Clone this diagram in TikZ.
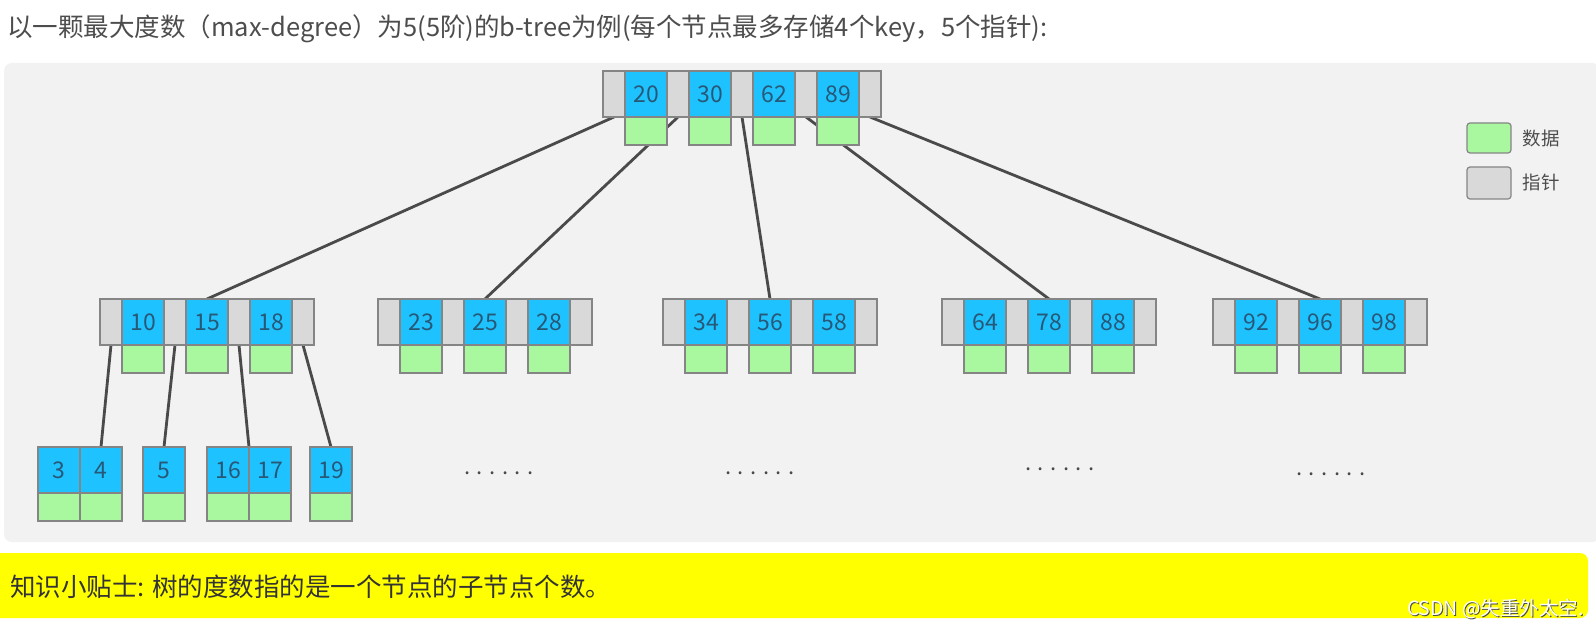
\documentclass[tikz,border=0pt]{standalone}
\usepackage{fontspec}
\setmainfont{Noto Sans CJK SC}
\usepackage{tikz}
\usetikzlibrary{positioning}
\usetikzlibrary{backgrounds}
\definecolor{keyblue}{HTML}{1EC2FE}
\definecolor{datgreen}{HTML}{A9F8A0}
\definecolor{ptrgray}{HTML}{D9D9D9}
\definecolor{cellline}{HTML}{858585}
\definecolor{keytext}{HTML}{285878}
\definecolor{edgegray}{HTML}{4A4A4A}
\definecolor{panelgray}{HTML}{F2F2F2}
\definecolor{titletext}{HTML}{4D4D4D}
\definecolor{tiptext}{HTML}{333333}
\definecolor{tipyellow}{HTML}{FFFF00}
\tikzset{ptr/.style={draw=cellline, fill=ptrgray, line width=1.2pt, minimum width=22pt, minimum height=46pt, inner sep=0pt, outer sep=0pt}}
\tikzset{key/.style={draw=cellline, fill=keyblue, text=keytext, line width=1.2pt, minimum width=42pt, minimum height=46pt, inner sep=0pt, outer sep=0pt, font=\fontsize{23}{23}\selectfont}}
\tikzset{dat/.style={draw=cellline, fill=datgreen, line width=1.2pt, minimum width=42pt, minimum height=28pt, inner sep=0pt, outer sep=0pt, below=0pt of #1}}
\tikzset{edge/.style={draw=edgegray, line width=2.8pt}}
\tikzset{more/.style={text=edgegray, font=\fontsize{22}{22}\selectfont, inner sep=0pt}}

\begin{document}
\begin{tikzpicture}[x=1pt, y=-1pt]
    \useasboundingbox (0,0) rectangle (1596,628);
    \node[anchor=west, inner sep=0pt, text=titletext, font=\fontsize{25.5}{25.5}\selectfont] (title) at (7,29) {以一颗最大度数（max-degree）为5(5阶)的b-tree为例(每个节点最多存储4个key，5个指针):};

    \node[ptr] (rp0) at (614,94) {}; \node[key] (k20) at (646,94) {20}; \node[ptr] (rp1) at (678,94) {}; \node[key] (k30) at (710,94) {30}; \node[ptr] (rp2) at (742,94) {};
    \node[key] (k62) at (774,94) {62}; \node[ptr] (rp3) at (806,94) {}; \node[key] (k89) at (838,94) {89}; \node[ptr] (rp4) at (870,94) {};
    \node[dat=k20] (v20) {}; \node[dat=k30] (v30) {}; \node[dat=k62] (v62) {}; \node[dat=k89] (v89) {};

    \node[ptr] (ap0) at (111,322) {}; \node[key] (k10) at (143,322) {10}; \node[ptr] (ap1) at (175,322) {}; \node[key] (k15) at (207,322) {15}; \node[ptr] (ap2) at (239,322) {}; \node[key] (k18) at (271,322) {18}; \node[ptr] (ap3) at (303,322) {};
    \node[dat=k10] (v10) {}; \node[dat=k15] (v15) {}; \node[dat=k18] (v18) {};
    \node[ptr] (bp0) at (389,322) {}; \node[key] (k23) at (421,322) {23}; \node[ptr] (bp1) at (453,322) {}; \node[key] (k25) at (485,322) {25}; \node[ptr] (bp2) at (517,322) {}; \node[key] (k28) at (549,322) {28}; \node[ptr] (bp3) at (581,322) {};
    \node[dat=k23] (v23) {}; \node[dat=k25] (v25) {}; \node[dat=k28] (v28) {};
    \node[ptr] (cp0) at (674,322) {}; \node[key] (k34) at (706,322) {34}; \node[ptr] (cp1) at (738,322) {}; \node[key] (k56) at (770,322) {56}; \node[ptr] (cp2) at (802,322) {}; \node[key] (k58) at (834,322) {58}; \node[ptr] (cp3) at (866,322) {};
    \node[dat=k34] (v34) {}; \node[dat=k56] (v56) {}; \node[dat=k58] (v58) {};
    \node[ptr] (dp0) at (953,322) {}; \node[key] (k64) at (985,322) {64}; \node[ptr] (dp1) at (1017,322) {}; \node[key] (k78) at (1049,322) {78}; \node[ptr] (dp2) at (1081,322) {}; \node[key] (k88) at (1113,322) {88}; \node[ptr] (dp3) at (1145,322) {};
    \node[dat=k64] (v64) {}; \node[dat=k78] (v78) {}; \node[dat=k88] (v88) {};
    \node[ptr] (ep0) at (1224,322) {}; \node[key] (k92) at (1256,322) {92}; \node[ptr] (ep1) at (1288,322) {}; \node[key] (k96) at (1320,322) {96}; \node[ptr] (ep2) at (1352,322) {}; \node[key] (k98) at (1384,322) {98}; \node[ptr] (ep3) at (1416,322) {};
    \node[dat=k92] (v92) {}; \node[dat=k96] (v96) {}; \node[dat=k98] (v98) {};

    \node[key] (k3) at (59,470) {3}; \node[key, right=0pt of k3] (k4) {4}; \node[key] (k5) at (164,470) {5};
    \node[key] (k16) at (228,470) {16}; \node[key, right=0pt of k16] (k17) {17}; \node[key] (k19) at (331,470) {19};
    \node[dat=k3] (v3) {}; \node[dat=k4] (v4) {}; \node[dat=k5] (v5) {}; \node[dat=k16] (v16) {}; \node[dat=k17] (v17) {}; \node[dat=k19] (v19) {};

    \node[more] (dots1) at (499,473) {. . . . . .};
    \node[more] (dots2) at (760,473) {. . . . . .};
    \node[more] (dots3) at (1060,469) {. . . . . .};
    \node[more] (dots4) at (1331,474) {. . . . . .};

    \node[draw=cellline, fill=datgreen, rounded corners=3pt, minimum width=44pt, minimum height=30pt, line width=1.2pt] (lgdat) at (1489,138) {};
    \node[draw=cellline, fill=ptrgray, rounded corners=3pt, minimum width=44pt, minimum height=32pt, line width=1.2pt] (lgptr) at (1489,183) {};
    \node[anchor=west, text=titletext, font=\fontsize{18.5}{18.5}\selectfont] (lgdattext) at (1519,138) {数据};
    \node[anchor=west, text=titletext, font=\fontsize{18.5}{18.5}\selectfont] (lgptrtext) at (1519,182) {指针};

    \node[anchor=west, inner sep=0pt, text=tiptext, font=\fontsize{25.5}{25.5}\selectfont] (tip) at (10,587) {知识小贴士: 树的度数指的是一个节点的子节点个数。};
    \node[anchor=east, inner sep=0pt, text=black!70, font=\fontsize{19.5}{19.5}\selectfont] (wmkshade) at (1585,610) {CSDN @失重外太空.};
    \node[anchor=east, inner sep=0pt, text=white, font=\fontsize{19.5}{19.5}\selectfont] (wmk) at (1584,609) {CSDN @失重外太空.};

    \begin{scope}[on background layer]
        \fill[white] (0,0) rectangle (1596,628);
        \fill[panelgray, rounded corners=8pt] (4,63) rectangle (1600,542);
        \fill[tipyellow, rounded corners=8pt] (-10,553) rectangle (1588,618);
        \draw[edge] (rp0.south) -- (k15.north);
        \draw[edge] (rp1.south) -- (k25.north);
        \draw[edge] (rp2.south) -- (k56.north);
        \draw[edge] (rp3.south) -- (k78.north);
        \draw[edge] (rp4.south) -- (k96.north);
        \draw[edge] (ap0.south) -- (k4.north);
        \draw[edge] (ap1.south) -- (k5.north);
        \draw[edge] (ap2.south) -- (k16.north east);
        \draw[edge] (ap3.south) -- (k19.north);
    \end{scope}
\end{tikzpicture}
\end{document}
